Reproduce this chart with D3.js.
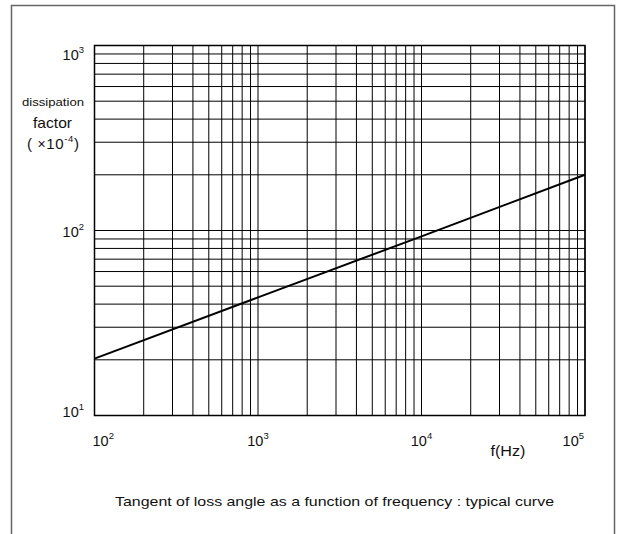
<!DOCTYPE html>
<html>
<head>
<meta charset="utf-8">
<script src="https://cdn.jsdelivr.net/npm/d3@7"></script>
<style>
  html, body { margin: 0; padding: 0; background: #fff; }
  svg { display: block; font-family: "Liberation Sans", Arial, sans-serif; }
</style>
</head>
<body>
<svg id="chart" width="623" height="534"></svg>
<script>
// ---- data ----
const freq = [100, 1000, 10000, 100000];           // Hz
const dissipation = [20.3, 43.5, 93, 200];          // x10^-4
const xTickExp = [2, 3, 4, 5];
const yTickExp = [1, 2, 3];
const xDomain = [100, 100000];
const yDomain = [10, 1000];

const svg = d3.select("#chart");

// outer frame (bottom edge outside the picture)
svg.append("path")
  .attr("d", "M11.5,540 L11.5,5.5 L614.5,5.5 L614.5,540")
  .attr("fill", "none").attr("stroke", "#666").attr("stroke-width", 1.5);

const x = d3.scaleLog().domain(xDomain).range([94.5, 585]);
const y = d3.scaleLog().domain(yDomain).range([415.5, 45.5]);

// grid values: every 1..9 multiple per decade
function gridVals(dom) {
  const v = [];
  for (let e = Math.round(Math.log10(dom[0])); e < Math.round(Math.log10(dom[1])); e++) {
    for (let m = 1; m <= 9; m++) v.push(m * Math.pow(10, e));
  }
  v.push(dom[1]);
  return v;
}

const g = svg.append("g");
g.selectAll("line.vx").data(gridVals(xDomain)).enter().append("line")
  .attr("x1", d => x(d)).attr("x2", d => x(d))
  .attr("y1", y(yDomain[0])).attr("y2", y(yDomain[1]))
  .attr("stroke", "#000").attr("stroke-width", 1);
g.selectAll("line.hy").data(gridVals(yDomain)).enter().append("line")
  .attr("y1", d => y(d)).attr("y2", d => y(d))
  .attr("x1", x(xDomain[0])).attr("x2", x(xDomain[1]))
  .attr("stroke", "#000").attr("stroke-width", 1);

// plot border
g.append("rect")
  .attr("x", x(xDomain[0])).attr("y", y(yDomain[1]))
  .attr("width", x(xDomain[1]) - x(xDomain[0]))
  .attr("height", y(yDomain[0]) - y(yDomain[1]))
  .attr("fill", "none").attr("stroke", "#000").attr("stroke-width", 1.5);

// curve
const line = d3.line().x((d, i) => x(freq[i])).y(d => y(d));
g.append("path").datum(dissipation)
  .attr("d", line)
  .attr("fill", "none").attr("stroke", "#000").attr("stroke-width", 2);

// power-of-ten label helper
function pow10Label(parent, px, py, exp, anchor) {
  const t = parent.append("text")
    .attr("x", px).attr("y", py)
    .attr("text-anchor", anchor)
    .attr("font-size", 14.5).attr("fill", "#111");
  t.append("tspan").text("10");
  t.append("tspan").attr("dy", -7).attr("font-size", 9.5).text(String(exp));
  return t;
}

// x tick labels
xTickExp.forEach((e, i) => {
  const anchor = i === 0 ? "start" : (i === xTickExp.length - 1 ? "end" : "middle");
  const dx = i === 0 ? -2 : (i === xTickExp.length - 1 ? -1 : 0);
  pow10Label(svg, x(Math.pow(10, e)) + dx, 446, e, anchor);
});

// y tick labels
yTickExp.forEach((e, i) => {
  const yy = y(Math.pow(10, e));
  const off = i === yTickExp.length - 1 ? 14 : (i === 0 ? 1 : 6);
  pow10Label(svg, 84, yy + off, e, "end");
});

// y axis title
svg.append("text").attr("x", 53).attr("y", 106).attr("text-anchor", "middle")
  .attr("font-size", 11).attr("fill", "#111")
  .attr("textLength", 62).attr("lengthAdjust", "spacingAndGlyphs")
  .text("dissipation");
svg.append("text").attr("x", 52.5).attr("y", 128).attr("text-anchor", "middle")
  .attr("font-size", 14.5).attr("fill", "#111")
  .attr("textLength", 39).attr("lengthAdjust", "spacingAndGlyphs")
  .text("factor");
const u = svg.append("text").attr("x", 53).attr("y", 149).attr("text-anchor", "middle")
  .attr("font-size", 15).attr("fill", "#111")
  .attr("textLength", 52).attr("lengthAdjust", "spacing");
u.append("tspan").text("( ");
u.append("tspan").attr("font-size", 14).text("\u00d7");
u.append("tspan").text("10");
u.append("tspan").attr("dy", -7).attr("font-size", 9.5).text("-4");
u.append("tspan").attr("dy", 7).text(")");

// x axis title
svg.append("text").attr("x", 508).attr("y", 456).attr("text-anchor", "middle")
  .attr("font-size", 14).attr("fill", "#111")
  .attr("textLength", 35).attr("lengthAdjust", "spacingAndGlyphs")
  .text("f(Hz)");

// caption
svg.append("text").attr("x", 334.5).attr("y", 506).attr("text-anchor", "middle")
  .attr("font-size", 13.5).attr("fill", "#111")
  .attr("textLength", 439).attr("lengthAdjust", "spacingAndGlyphs")
  .text("Tangent of loss angle as a function of frequency : typical curve");
</script>
</body>
</html>
